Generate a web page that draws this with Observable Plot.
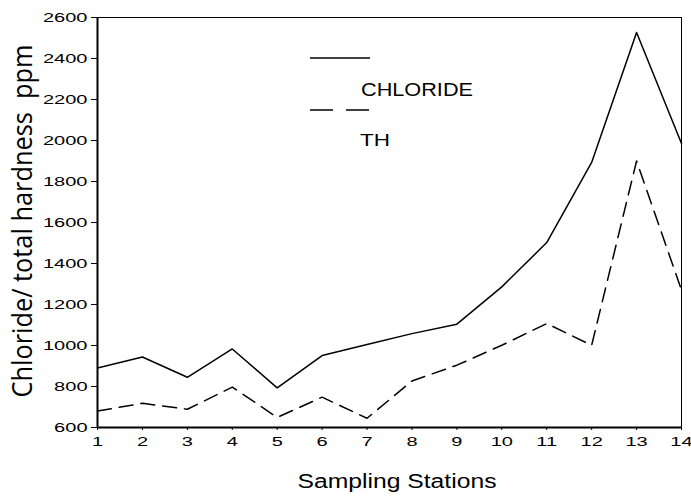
<!DOCTYPE html>
<html>
<head>
<meta charset="utf-8">
<script src="https://cdn.jsdelivr.net/npm/d3@7"></script>
<script src="https://cdn.jsdelivr.net/npm/@observablehq/plot@0.6"></script>
<style>
  html, body { margin: 0; padding: 0; background: #fff; }
  svg { display: block; }
</style>
</head>
<body>
<script>
const stations = [1, 2, 3, 4, 5, 6, 7, 8, 9, 10, 11, 12, 13, 14];
const chloride = [890, 944, 845, 983, 793, 951, 1005, 1058, 1104, 1286, 1502, 1893, 2527, 1985];
const totalHardness = [680, 718, 689, 797, 649, 748, 645, 827, 904, 1001, 1107, 1001, 1900, 1270];
const yTicks = [600, 800, 1000, 1200, 1400, 1600, 1800, 2000, 2200, 2400, 2600];
const seriesNames = ["CHLORIDE", "TH"];
const xLabel = "Sampling Stations";
const yLabel = "Chloride/ total hardness  ppm";

const rows = [];
stations.forEach((s, i) => {
  rows.push({station: s, value: chloride[i], series: seriesNames[0]});
  rows.push({station: s, value: totalHardness[i], series: seriesNames[1]});
});

const tickFont = "Liberation Sans, Arial, sans-serif";
const fmt = d => String(d);

const plot = Plot.plot({
  width: 691,
  height: 500,
  marginLeft: 97,
  marginRight: 10,
  marginTop: 17,
  marginBottom: 73,
  style: {fontFamily: tickFont, fontSize: "12.5px", color: "#000", background: "#fff"},
  x: {domain: [1, 14], label: null},
  y: {domain: [600, 2600], label: null},
  marks: [
    Plot.frame({stroke: "#000", strokeWidth: 1}),
    Plot.axisX({ticks: stations, tickFormat: fmt, tickSize: 3, tickPadding: 7, label: null, fontSize: 12.5}),
    Plot.axisY({ticks: yTicks, tickFormat: fmt, tickSize: 6, tickPadding: 4, label: null, fontSize: 12.5}),
    Plot.ruleX([1], {stroke: "#000", strokeWidth: 2}),
    Plot.ruleY([600], {stroke: "#000", strokeWidth: 2}),
    Plot.line(rows.filter(d => d.series === seriesNames[0]), {x: "station", y: "value", stroke: "#000", strokeWidth: 1.5}),
    Plot.line(rows.filter(d => d.series === seriesNames[1]), {x: "station", y: "value", stroke: "#000", strokeWidth: 1.5, strokeDasharray: "14,8"})
  ]
});

document.body.append(plot);

const svg = d3.select(plot);

// stretch tick label glyphs horizontally (reference text is wide)
svg.selectAll("g[aria-label='x-axis tick label'] text, g[aria-label='y-axis tick label'] text").each(function() {
  const w = this.getComputedTextLength();
  this.setAttribute("textLength", (w * 1.6).toFixed(1));
  this.setAttribute("lengthAdjust", "spacingAndGlyphs");
});

function addText(txt, attrs, targetWidth) {
  const t = svg.append("text").text(txt);
  Object.entries(attrs).forEach(([k, v]) => t.attr(k, v));
  if (targetWidth) {
    t.attr("textLength", targetWidth).attr("lengthAdjust", "spacingAndGlyphs");
  }
  return t;
}

// Y axis title
addText(yLabel, {
  transform: "translate(32,221) rotate(-90)",
  "text-anchor": "middle",
  "font-family": "Open Sans, sans-serif",
  "font-size": 27,
  fill: "#000"
}, 353);

// X axis title
addText(xLabel, {
  x: 397, y: 488,
  "text-anchor": "middle",
  "font-family": tickFont,
  "font-size": 20,
  fill: "#000"
}, 199);

// Legend
const lg = svg.append("g");
lg.append("line").attr("x1", 310).attr("x2", 370).attr("y1", 58).attr("y2", 58)
  .attr("stroke", "#000").attr("stroke-width", 1.5);
lg.append("line").attr("x1", 310).attr("x2", 370).attr("y1", 110).attr("y2", 110)
  .attr("stroke", "#000").attr("stroke-width", 1.5).attr("stroke-dasharray", "23,13");
addText(seriesNames[0], {x: 361, y: 96, "text-anchor": "start", "font-family": tickFont, "font-size": 17.5, fill: "#000"}, 112);
addText(seriesNames[1], {x: 360, y: 146, "text-anchor": "start", "font-family": tickFont, "font-size": 17, fill: "#000"}, 30);
</script>
</body>
</html>
